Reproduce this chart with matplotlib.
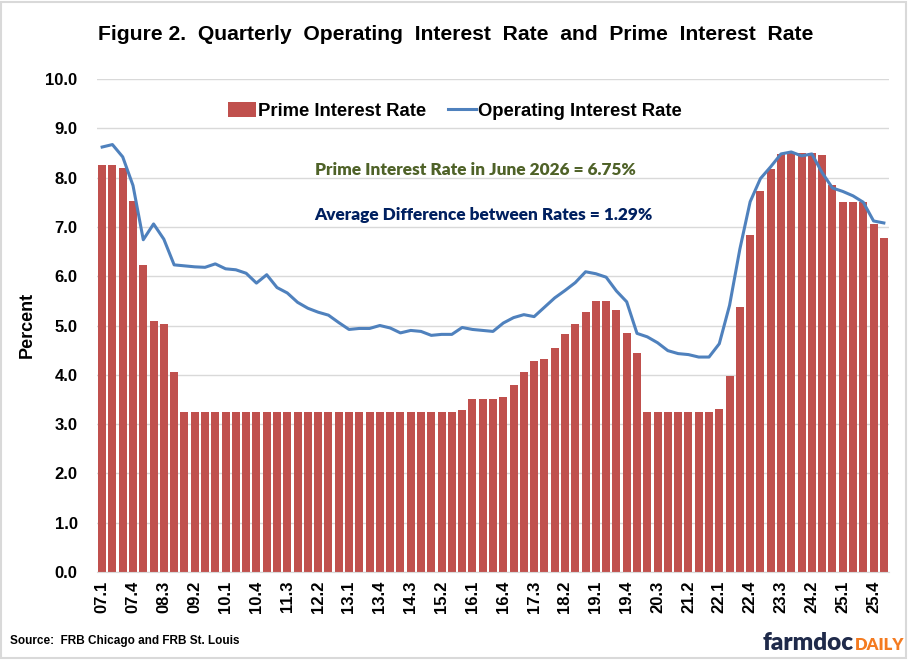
import matplotlib
matplotlib.use("Agg")
import matplotlib.pyplot as plt
from matplotlib.patches import Rectangle, Patch
from matplotlib.lines import Line2D
import numpy as np

# ---------------- data ----------------
quarters = [f"{y:02d}.{q}" for y in range(7, 27) for q in range(1, 5)][:77]

prime_rate = [8.25, 8.25, 8.20, 7.53, 6.22, 5.10, 5.03, 4.06,
              3.25, 3.25, 3.25, 3.25, 3.25, 3.25, 3.25, 3.25, 3.25,
              3.25, 3.25, 3.25, 3.25, 3.25, 3.25, 3.25, 3.25, 3.25,
              3.25, 3.25, 3.25, 3.25, 3.25, 3.25, 3.25, 3.25, 3.25,
              3.29, 3.50, 3.50, 3.50, 3.54, 3.80, 4.05, 4.28, 4.32,
              4.55, 4.82, 5.03, 5.28, 5.50, 5.50, 5.32, 4.85, 4.44,
              3.25, 3.25, 3.25, 3.25, 3.25, 3.25, 3.25, 3.31, 3.98,
              5.38, 6.84, 7.72, 8.18, 8.47, 8.50, 8.50, 8.50, 8.45,
              7.84, 7.50, 7.50, 7.50, 7.05, 6.78]

operating_rate = [8.62, 8.67, 8.42, 7.84, 6.74, 7.06, 6.75, 6.23,
                  6.21, 6.19, 6.18, 6.25, 6.15, 6.13, 6.06, 5.86,
                  6.03, 5.77, 5.66, 5.47, 5.35, 5.27, 5.21, 5.06,
                  4.92, 4.94, 4.94, 5.00, 4.95, 4.85, 4.90, 4.88,
                  4.80, 4.82, 4.82, 4.96, 4.92, 4.90, 4.88, 5.05,
                  5.16, 5.22, 5.18, 5.37, 5.56, 5.71, 5.87, 6.09,
                  6.05, 5.98, 5.70, 5.48, 4.84, 4.77, 4.65, 4.49,
                  4.43, 4.41, 4.36, 4.36, 4.63, 5.41, 6.55, 7.51,
                  7.98, 8.22, 8.48, 8.52, 8.44, 8.48, 8.10, 7.79,
                  7.72, 7.63, 7.50, 7.12, 7.08]

yticks = [0, 1, 2, 3, 4, 5, 6, 7, 8, 9, 10]

title = "Figure 2.  Quarterly  Operating  Interest  Rate  and  Prime  Interest  Rate"
note1 = "Prime Interest Rate in June 2026 = 6.75%"
note2 = "Average Difference between Rates = 1.29%"
source = "Source:  FRB Chicago and FRB St. Louis"

# ---------------- style ----------------
BAR = "#C0504D"
LINE = "#4F81BD"
GRID = "#D9D9D9"
plt.rcParams['font.family'] = ['Liberation Sans', 'DejaVu Sans']

W, H = 909, 660
fig = plt.figure(figsize=(W / 100, H / 100), dpi=100)
ax = fig.add_axes([97 / W, 1 - 572 / H, (889 - 97) / W, (572 - 79) / H])

x = np.arange(len(quarters))
ax.bar(x, prime_rate, width=0.78, color=BAR, zorder=2, label="Prime Interest Rate")
ax.plot(x, operating_rate, color=LINE, lw=2.2, zorder=3, label="Operating Interest Rate",
        solid_joinstyle='round')

ax.set_xlim(-0.5, len(quarters) - 0.5)
ax.set_ylim(0, 10)
ax.set_yticks(yticks)
ax.set_yticklabels([f"{v:.1f}" for v in yticks], fontsize=12, fontweight='bold')
ax.set_xticks(x[::3])
ax.set_xticklabels(quarters[::3], rotation=90, fontsize=12, fontweight='bold')
ax.tick_params(axis='both', length=0)
ax.tick_params(axis='y', pad=14)
ax.tick_params(axis='x', pad=6)
ax.grid(axis='y', color=GRID, lw=1, zorder=0)
ax.set_axisbelow(True)
for s in ['top', 'right', 'left']:
    ax.spines[s].set_visible(False)
ax.spines['bottom'].set_color(GRID)

handles = [Patch(facecolor=BAR, edgecolor='none'),
           Line2D([0], [0], color=LINE, lw=2.2)]
ax.legend(handles, ["Prime Interest Rate", "Operating Interest Rate"],
          loc='center', bbox_to_anchor=(0.452, 0.935), ncol=2, frameon=False,
          prop={'weight': 'bold', 'size': 13.3}, handlelength=1.5, handleheight=0.9,
          handletextpad=0.1, columnspacing=1.2)

ax.text((315 - 97) / 792, (572 - 170) / 493, note1, transform=ax.transAxes,
        ha='left', va='center', fontsize=12.4, fontweight='heavy', color='#4F6228',
        family=['Lato', 'DejaVu Sans'])
ax.text((314 - 97) / 792, (572 - 215) / 493, note2, transform=ax.transAxes,
        ha='left', va='center', fontsize=12.4, fontweight='heavy', color='#002060',
        family=['Lato', 'DejaVu Sans'])

fig.text(456 / W, 1 - 35 / H, title, ha='center', va='center', fontsize=15.2, fontweight='bold')
fig.text(27 / W, 1 - 325 / H, "Percent", rotation=90, ha='center', va='center',
         fontsize=13, fontweight='bold')
fig.text(10 / W, 1 - 641 / H, source, ha='left', va='center', fontsize=8.5,
         fontweight='bold', family=['Liberation Sans', 'DejaVu Sans'])

t1 = fig.text(763 / W, 1 - 643 / H, "farmdoc", ha='left', va='center', fontsize=17.5,
              fontweight='heavy', color='#1F2A4A', family=['Lato', 'DejaVu Sans'])
fig.canvas.draw()
bb = t1.get_window_extent()
fig.text(bb.x1 / W + 1 / W, 1 - 645 / H, "DAILY", ha='left', va='center', fontsize=12,
         fontweight='heavy', color='#F47B20', family=['Lato', 'DejaVu Sans'])

fig.patches.append(Rectangle((1 / W, 2 / H), (W - 4) / W, (H - 4) / H, transform=fig.transFigure,
                             fill=False, edgecolor=GRID, lw=1.5))

fig.savefig("out.png", dpi=100)
